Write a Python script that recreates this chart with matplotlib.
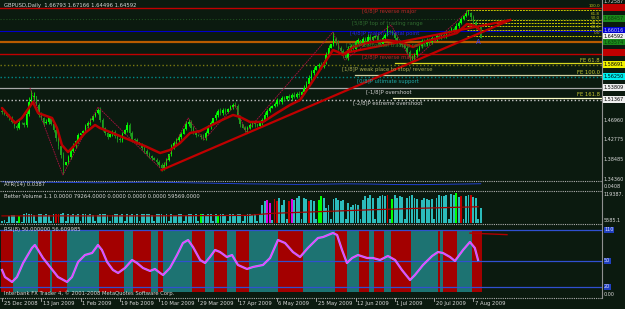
import matplotlib
matplotlib.use("Agg")
import matplotlib.pyplot as plt
from matplotlib.lines import Line2D

# ---------------- data ----------------
header = "GBPUSD,Daily  1.66793 1.67166 1.64496 1.64592"
date_labels = ["25 Dec 2008", "13 Jan 2009", "1 Feb 2009", "19 Feb 2009", "10 Mar 2009",
               "29 Mar 2009", "17 Apr 2009", "6 May 2009", "25 May 2009", "12 Jun 2009",
               "1 Jul 2009", "20 Jul 2009", "7 Aug 2009"]
date_label_bars = [0, 16, 32, 48, 64, 80, 96, 112, 128, 144, 160, 176, 192]

first_open = 1.490
close = [1.487, 1.483, 1.478, 1.474, 1.466, 1.457, 1.453, 1.464, 1.463, 1.459,
         1.483, 1.508, 1.519, 1.521, 1.502, 1.481, 1.474, 1.464, 1.466, 1.474,
         1.461, 1.449, 1.432, 1.414, 1.395, 1.374, 1.380, 1.391, 1.404, 1.414,
         1.425, 1.438, 1.442, 1.446, 1.457, 1.463, 1.470, 1.478, 1.485, 1.491,
         1.470, 1.453, 1.442, 1.434, 1.440, 1.444, 1.436, 1.429, 1.427, 1.440,
         1.449, 1.459, 1.442, 1.429, 1.427, 1.423, 1.417, 1.410, 1.404, 1.397,
         1.393, 1.389, 1.385, 1.380, 1.374, 1.367, 1.374, 1.384, 1.397, 1.412,
         1.421, 1.427, 1.434, 1.440, 1.451, 1.461, 1.466, 1.453, 1.444, 1.438,
         1.436, 1.434, 1.431, 1.442, 1.455, 1.463, 1.474, 1.481, 1.490, 1.484,
         1.492, 1.486, 1.494, 1.498, 1.502, 1.500, 1.478, 1.461, 1.453, 1.449,
         1.453, 1.459, 1.463, 1.461, 1.457, 1.463, 1.470, 1.481, 1.489, 1.496,
         1.500, 1.504, 1.512, 1.508, 1.517, 1.514, 1.521, 1.516, 1.524, 1.520,
         1.526, 1.524, 1.530, 1.538, 1.547, 1.560, 1.570, 1.577, 1.585, 1.587,
         1.583, 1.594, 1.609, 1.624, 1.632, 1.643, 1.636, 1.624, 1.617, 1.609,
         1.602, 1.621, 1.628, 1.622, 1.636, 1.640, 1.633, 1.642, 1.636, 1.648,
         1.640, 1.646, 1.650, 1.638, 1.632, 1.644, 1.652, 1.660, 1.658, 1.655,
         1.645, 1.638, 1.632, 1.630, 1.624, 1.615, 1.604, 1.604, 1.609, 1.619,
         1.628, 1.638, 1.632, 1.640, 1.636, 1.645, 1.642, 1.650, 1.646, 1.652,
         1.648, 1.656, 1.660, 1.664, 1.660, 1.671, 1.677, 1.685, 1.692, 1.698,
         1.698, 1.690, 1.679, 1.671, 1.668, 1.64592]
# wick extensions beyond the body, in thousandths
up_ext = [3, 2, 1, 4, 5, 3, 4, 6, 1, 3, 8, 12,
          15, 9, 1, 4, 5, 3, 6, 4, 1, 3, 4, 5,
          5, 6, 1, 4, 5, 6, 3, 4, 1, 3, 4, 5,
          4, 3, 1, 5, 6, 4, 3, 4, 1, 4, 5, 3,
          4, 5, 1, 6, 5, 4, 3, 4, 1, 3, 4, 3,
          4, 3, 1, 3, 4, 5, 6, 5, 1, 6, 5, 4,
          5, 4, 1, 6, 7, 5, 4, 3, 1, 4, 5, 4,
          5, 4, 1, 5, 4, 5, 3, 4, 1, 4, 5, 6,
          4, 3, 1, 4, 5, 4, 3, 4, 1, 4, 5, 6,
          5, 4, 1, 5, 4, 3, 4, 5, 1, 4, 3, 5,
          4, 5, 1, 6, 7, 5, 6, 5, 1, 4, 6, 5,
          6, 7, 1, 15, 5, 4, 3, 4, 1, 6, 5, 4,
          5, 4, 1, 5, 4, 6, 5, 4, 1, 5, 4, 5,
          4, 12, 1, 5, 3, 4, 3, 4, 1, 3, 4, 5,
          4, 5, 1, 4, 5, 4, 5, 4, 1, 4, 5, 4,
          5, 4, 1, 4, 5, 6, 5, 5, 1, 6, 6, 3,
          4, 4, 1, 4]
dn_ext = [4, 3, 1, 4, 3, 5, 4, 3, 1, 4, 3, 4,
          5, 6, 1, 5, 4, 6, 3, 4, 1, 5, 6, 7,
          6, 20, 1, 5, 4, 3, 4, 5, 1, 4, 3, 4,
          4, 3, 1, 3, 5, 6, 5, 4, 1, 4, 5, 6,
          4, 3, 1, 4, 6, 5, 4, 5, 1, 4, 5, 4,
          5, 4, 1, 5, 4, 6, 4, 3, 1, 4, 3, 4,
          3, 4, 1, 3, 4, 6, 5, 4, 1, 5, 4, 3,
          3, 4, 1, 3, 4, 3, 4, 3, 1, 3, 4, 3,
          5, 6, 1, 5, 4, 3, 4, 5, 1, 3, 4, 3,
          4, 3, 1, 3, 4, 3, 4, 3, 1, 4, 3, 4,
          3, 4, 1, 3, 4, 3, 4, 5, 1, 6, 4, 3,
          4, 3, 1, 4, 6, 5, 6, 7, 1, 5, 4, 3,
          4, 5, 1, 6, 4, 5, 4, 5, 1, 6, 5, 4,
          4, 3, 1, 4, 5, 6, 5, 4, 1, 5, 8, 6,
          5, 4, 1, 4, 3, 4, 5, 4, 1, 4, 3, 4,
          3, 4, 1, 3, 4, 3, 4, 3, 1, 3, 4, 6,
          5, 6, 1, 1]
last_bar = (1.66793, 1.67166, 1.64496, 1.64592)

# moving average (thick red) read at bar positions
ma_bars = [0, 5.3, 8.1, 12.6, 14.7, 20.4, 22.4, 24.4, 26.9, 29.7, 33.8, 37.9, 39.9, 44.0,
           52.1, 58.2, 64.4, 68.4, 72.5, 76.6, 80.7, 84.7, 89.6, 94.1, 97.0, 101.0, 106.3,
           112.0, 117.3, 121.4, 125.5, 130.8, 134.8, 136.9, 138.9, 143.0, 148.7, 156.8,
           162.1, 167.4, 173.1, 179.6, 185.3, 189.4, 192.6, 194.7]
ma_vals = [1.4955, 1.4635, 1.4742, 1.5083, 1.4848, 1.4742, 1.4528, 1.4166, 1.4016, 1.4166,
           1.4422, 1.4593, 1.4528, 1.4443, 1.4272, 1.4144, 1.3995, 1.4059, 1.4208, 1.4422,
           1.4464, 1.4571, 1.4699, 1.4806, 1.4763, 1.4657, 1.4657, 1.4849, 1.5019, 1.5126,
           1.5446, 1.5873, 1.6193, 1.6150, 1.6086, 1.6257, 1.6342, 1.6406, 1.6364, 1.6257,
           1.6385, 1.6470, 1.6556, 1.6748, 1.6705, 1.6620]

# zigzag swing points
zz_bars = [11.4, 24.8, 39.1, 65.2, 75.8, 82.3, 95.0, 99.4, 134.8, 139.7, 158.5, 167.0, 189.8]
zz_vals = [1.5382, 1.3526, 1.4977, 1.3632, 1.4742, 1.4272, 1.5019, 1.4443, 1.6577, 1.5980,
           1.6726, 1.5937, 1.7025]

# trend lines
trend_a_bars = [65, 207]
trend_a_vals = [1.3632, 1.6833]
trend_d_bars = [139.7, 207]
trend_d_vals = [1.6129, 1.6833]

# Murrey math levels
mm_levels = [1.70898, 1.68457, 1.66016, 1.63574, 1.61133, 1.58691, 1.56250, 1.53809, 1.51367]
mm_labels = ["[6/8]P reverse major", "[5/8]P top of trading range", "[4/8]P major/ pivotal point",
             "[3/8]P bottom of trading range", "[2/8]P reverse major",
             "[1/8]P weak place to stop/ reverse", "[0/8]P ultimate support",
             "[-1/8]P overshoot", "[-2/8]P extreme overshoot"]
mm_colors = ["#c00000", "#1f4f1f", "#0000c8", "#b85c00", "#c00000", "#7a7a10", "#008a8a",
             "#a8a8a8", "#c8c8c8"]
mm_text_colors = ["#b82828", "#2f6a2f", "#2828e0", "#3a7a2a", "#b82828", "#a8a850", "#20a8a8",
                  "#d0d0d0", "#d0d0d0"]

fib_high = 1.7047
fib_low = 1.6492
fib_ratios = [100.0, 61.8, 50.0, 38.2, 23.6, 0.0]
fe_labels = ["FE 61.8", "FE 100.0", "FE 161.8"]
fe_vals = [1.5916, 1.5660, 1.5169]

axis_prices = [1.46960, 1.42775, 1.38485, 1.34360]

# ATR
atr_bars = [0, 10, 20, 30, 40, 50, 60, 70, 80, 90, 100, 110, 120, 130, 140, 150, 160, 170, 180, 190, 195]
atr_vals = [0.0405, 0.0402, 0.0400, 0.0398, 0.0396, 0.0399, 0.0401, 0.0398, 0.0394, 0.0390,
            0.0386, 0.0384, 0.0381, 0.0383, 0.0386, 0.0384, 0.0380, 0.0379, 0.0382, 0.0385, 0.0387]

# volume (thousands)
volume = [6, 10, 3, 28, 32, 30, 8, 26, 5, 34, 38, 36,
          35, 33, 6, 34, 36, 32, 35, 33, 6, 37, 35, 34,
          36, 38, 6, 34, 33, 35, 32, 34, 6, 35, 36, 33,
          34, 32, 6, 33, 35, 34, 36, 33, 6, 32, 34, 35,
          33, 36, 6, 34, 32, 35, 33, 34, 6, 36, 35, 37,
          34, 33, 6, 35, 34, 36, 33, 35, 6, 34, 32, 33,
          35, 34, 6, 33, 35, 34, 32, 36, 6, 35, 34, 33,
          36, 34, 6, 35, 33, 34, 36, 32, 6, 34, 35, 33,
          34, 36, 6, 33, 35, 34, 32, 35, 6, 36, 70, 85,
          90, 80, 12, 95, 88, 100, 70, 92, 14, 85, 95, 90,
          100, 105, 14, 100, 95, 88, 92, 85, 15, 90, 105, 98,
          60, 70, 15, 95, 100, 90, 85, 92, 16, 80, 65, 70,
          75, 72, 15, 90, 105, 100, 110, 98, 16, 100, 108, 112,
          105, 110, 16, 95, 112, 100, 108, 104, 16, 100, 106, 112,
          98, 95, 16, 90, 100, 95, 92, 96, 16, 100, 110, 105,
          108, 112, 16, 115, 110, 118, 104, 108, 16, 105, 110, 112,
          104, 100, 14, 60]
vol_special = {7: "g", 22: "r", 23: "r", 81: "g", 88: "g", 108: "m", 109: "m", 111: "r",
               112: "r", 117: "r", 118: "m", 125: "r", 129: "g", 130: "g", 157: "r",
               159: "g", 185: "g", 187: "r", 191: "r"}
vol_ma_bars = [0, 60, 100, 110, 130, 150, 170, 194]
vol_ma_vals = [28, 28, 30, 38, 45, 52, 58, 64]

# RSI-like oscillator
osc_bars = [0, 1.2, 4.1, 6.1, 8.6, 12.2, 13.4, 14.7, 16.7, 19.6, 22.8, 26.5, 28.5, 31.0, 33.8,
            36.7, 39.1, 40.7, 42.8, 45.2, 47.3, 50.1, 53.0, 55.0, 57.4, 60.3, 62.3, 64.4, 65.6,
            68.4, 71.3, 73.7, 75.8, 77.8, 80.7, 82.7, 84.7, 86.8, 88.8, 91.6, 93.7, 96.1, 99.8,
            102.2, 106.3, 109.2, 112.4, 115.3, 118.5, 121.4, 124.6, 128.7, 130.8, 134.8, 136.5,
            138.5, 140.5, 142.6, 145.0, 148.7, 151.1, 154.0, 157.2, 160.1, 162.9, 166.2, 168.2,
            171.5, 175.2, 177.6, 179.6, 182.5, 184.5, 187.8, 190.6, 192.6, 193.9]
osc_vals = [32.6, 19.0, 9.4, 19.0, 46.1, 75.2, 81.0, 71.3, 55.8, 38.4, 19.0, 9.4, 19.0, 48.1,
            61.6, 65.5, 81.0, 71.3, 48.1, 32.6, 26.8, 36.5, 51.9, 46.1, 36.5, 30.7, 34.5, 26.8,
            22.9, 36.5, 61.6, 84.8, 90.6, 77.1, 52.0, 46.1, 57.7, 71.3, 67.4, 57.7, 61.6, 42.3,
            34.5, 38.4, 42.3, 55.8, 90.6, 84.8, 67.4, 57.7, 75.2, 94.5, 96.4, 104.2, 100.3, 71.3,
            46.1, 55.8, 61.6, 55.8, 55.8, 51.9, 59.7, 51.9, 32.6, 13.2, 22.9, 42.3, 59.7, 67.4,
            65.5, 57.7, 50.0, 71.3, 86.8, 75.2, 52.0]
band_runs = [("r", 5), ("t", 10), ("r", 5), ("t", 1), ("r", 6), ("t", 13), ("r", 10), ("t", 4),
             ("r", 7), ("t", 3), ("r", 2), ("t", 12), ("r", 5), ("t", 4), ("r", 5), ("t", 4),
             ("r", 5), ("t", 12), ("r", 10), ("t", 13), ("r", 5), ("t", 5), ("r", 4), ("t", 2),
             ("r", 4), ("t", 3), ("r", 8), ("t", 11), ("r", 1), ("t", 1), ("r", 6), ("t", 6),
             ("r", 4)]
osc_levels = [110, 50, 0]
osc_level_labels = ["110", "50", "20"]

# ---------------- layout helpers ----------------
W, H = 625, 309
BG = "#0b1a0f"
PX_PER_BAR = 2.455
X0PX = 2.0
RIGHT = 602


def bx(xpx):
    return (xpx - X0PX) / PX_PER_BAR


def fy(ypx):
    return 1 - ypx / H


fig = plt.figure(figsize=(W / 100, H / 100), dpi=100)
fig.patch.set_facecolor(BG)
XMIN, XMAX = bx(0), bx(RIGHT)


def make_ax(y0, y1):
    ax = fig.add_axes([0, 1 - y1 / H, RIGHT / W, (y1 - y0) / H])
    ax.set_facecolor(BG)
    ax.set_xlim(XMIN, XMAX)
    for s in ax.spines.values():
        s.set_visible(False)
    ax.set_xticks([])
    ax.set_yticks([])
    return ax


FS = 3.8
FSR = 3.5

# ---------------- main price panel ----------------
ax = make_ax(0, 180)
PTOP, PBOT = 1.726005, 1.3419
ax.set_ylim(PBOT, PTOP)

n = len(close)
opens = [first_open] + close[:-1]
opens[-1] = last_bar[0]
highs = [max(o, c) + u / 1000 for o, c, u in zip(opens, close, up_ext)]
lows = [min(o, c) - d / 1000 for o, c, d in zip(opens, close, dn_ext)]
highs[-1], lows[-1] = last_bar[1], last_bar[2]
idx = list(range(n))

# Murrey lines
mm_styles = ["-", ":", "-", "-", "-", ":", ":", "-", ":"]
mm_lw = [1.0, 0.8, 0.8, 1.6, 1.0, 1.0, 1.0, 0.9, 1.0]
for lv, col, ls, lw in zip(mm_levels, mm_colors, mm_styles, mm_lw):
    ax.axhline(lv, color=col, lw=lw, ls=ls, zorder=1)

# Fib retracement lines
fib_start = bx(467)
for r in fib_ratios:
    pv = fib_low + r / 100 * (fib_high - fib_low)
    ax.plot([fib_start, XMAX], [pv, pv], color="#c8c800", lw=0.7, ls=(0, (2, 1)), zorder=2)
# FE lines
fe_starts = [bx(395), bx(355), bx(393)]
fe_cols = ["#d8d820", "#d0d0a0", "#ffffc8"]
for v, st, col in zip(fe_vals, fe_starts, fe_cols):
    ax.plot([st, XMAX], [v, v], color=col, lw=0.9, zorder=2)

# candles
bull_c, bear_c = "#00ff00", "#1e9e1e"
for i in idx:
    o, c = opens[i], close[i]
    col = bull_c if c >= o else bear_c
    ax.vlines(i, lows[i], highs[i], color=col, lw=0.6, zorder=3)
    bot, top = min(o, c), max(o, c)
    ax.bar(i, max(top - bot, 0.0008), bottom=bot, width=0.62, color=col, lw=0, zorder=3)

# zigzag + MA + trend lines
ax.plot(zz_bars, zz_vals, color="#b01040", lw=0.6, ls=(0, (2, 1)), zorder=4)
ax.plot(ma_bars, ma_vals, color="#b80000", lw=1.8, zorder=5, solid_capstyle="round")
ax.plot(trend_a_bars, trend_a_vals, color="#c00000", lw=1.6, zorder=5)
ax.plot(trend_d_bars, trend_d_vals, color="#c00000", lw=1.6, zorder=5)
ax.text(bx(478), 1.726005 - 0.002134 * 42, "A", color="#3a3aff", fontsize=5,
        ha="center", va="center", zorder=6)

# ---------------- ATR panel ----------------
axa = make_ax(181, 190)
axa.set_ylim(0.0330, 0.0412)
axa.plot(atr_bars, atr_vals, color="#2040d0", lw=0.7)

# ---------------- volume panel ----------------
axv = make_ax(190, 223)
axv.set_ylim(0, 130)
vcols = {"c": "#2cbcbc", "g": "#00ff00", "r": "#c00000", "m": "#e000e0", "w": "#e0e0e0"}
for i, v in enumerate(volume):
    axv.bar(i, v, width=0.75, color=vcols[vol_special.get(i, "c")], lw=0)
axv.plot(vol_ma_bars, vol_ma_vals, color="#a00000", lw=0.9)

# ---------------- oscillator panel ----------------
axr = make_ax(224, 297)
axr.set_ylim(-19.7, 121.6)
states = "".join(s * k for s, k in band_runs)
bcols = {"r": "#a30000", "t": "#1d7372"}
for i, s in enumerate(states):
    axr.bar(i, 120, bottom=-10, width=1.0, color=bcols[s], lw=0)
for lv in osc_levels:
    axr.axhline(lv, color="#3050d0", lw=0.9)
axr.plot([bx(470), bx(507)], [104, 101], color="#b00000", lw=1.0)
axr.plot(osc_bars, osc_vals, color="#9a9aff", lw=1.6)
axr.plot(osc_bars, osc_vals, color="#ff30ff", lw=0.8)

# ---------------- frame lines ----------------
def hline_px(y, x0=0, x1=RIGHT, col="#b0b0b0", ls=(0, (1, 1)), lw=0.8):
    fig.add_artist(Line2D([x0 / W, x1 / W], [fy(y), fy(y)], color=col, lw=lw, ls=ls))

for yy in (181, 190.5, 223.5, 297.5):
    hline_px(yy)
fig.add_artist(Line2D([RIGHT / W, RIGHT / W], [fy(0), fy(298)], color="#909090", lw=0.8))

# ---------------- texts ----------------
TXT = "#d8d8d8"
fig.text(4 / W, fy(6), header, color=TXT, fontsize=FS, va="center")
mm_text_pos = [(362, 12), (352, 24), (350, 34), (346, 46), (362, 58), (342, 69),
               (357, 81), (366, 92), (353, 103)]
for (xp, yp), lab, col in zip(mm_text_pos, mm_labels, mm_text_colors):
    fig.text(xp / W, fy(yp), lab, color=col, fontsize=FS, va="center")

fib_text_y = [6, 14.2, 18.4, 22.6, 26.8, 33]
for r, yp in zip(fib_ratios, fib_text_y):
    fig.text(600 / W, fy(yp), f"{r:.1f}", color="#c0c020", fontsize=3.0, va="center", ha="right")
for lab, yp in zip(fe_labels, [60, 72, 95]):
    fig.text(600 / W, fy(yp), lab, color="#c8c830", fontsize=FS, va="center", ha="right")

# right axis boxes
box_specs = [(7.5, "1.70898", "#c00000", "#c00000"), (18.5, "1.68457", "#1a8a1a", "#0a3a0a"),
             (30.5, "1.66016", "#0000d0", "#c0c0ff"), (36.5, "1.64592", "#f0f0f0", "#000000"),
             (42, "1.63574", "#1a8a1a", "#0a3a0a"), (52.5, "1.61133", "#c00000", "#c00000"),
             (64.5, "1.58691", "#f0f000", "#000000"), (76.5, "1.56250", "#00f0f0", "#000000"),
             (87.5, "1.53809", "#f0f0f0", "#000000"), (99.5, "1.51367", "#f0f0f0", "#000000")]
for yp, lab, bg, tc in box_specs:
    fig.text(603.5 / W, fy(yp), lab, color=tc, fontsize=FSR, va="center", ha="left",
             bbox=dict(boxstyle="square,pad=0.2", fc=bg, ec="none"))
fig.text(603.5 / W, fy(1.5), "1.72587", color=TXT, fontsize=FSR, va="center")
for pv in axis_prices:
    yp = (PTOP - pv) / 0.002134
    fig.text(603.5 / W, fy(yp), f"{pv:.5f}", color=TXT, fontsize=FSR, va="center")

fig.text(4 / W, fy(184.5), "ATR(14) 0.0387", color=TXT, fontsize=FS, va="center")
fig.text(603.5 / W, fy(186), "0.0408", color=TXT, fontsize=FSR, va="center")
fig.text(4 / W, fy(196), "Better Volume 1.1 0.0000 79264.0000 0.0000 0.0000 0.0000 59569.0000",
         color=TXT, fontsize=FS, va="center")
fig.text(603.5 / W, fy(195), "119387.", color=TXT, fontsize=FSR, va="center")
fig.text(603.5 / W, fy(220), "5585.1", color=TXT, fontsize=FSR, va="center")
fig.text(4 / W, fy(230), "RSI(8) 50.000000 56.609985", color=TXT, fontsize=FS, va="center")
for lv, lab in zip(osc_levels, osc_level_labels):
    yp = 224 + (121.6 - lv) / (121.6 + 19.7) * 73
    fig.text(604 / W, fy(yp), lab, color="#e0e0ff", fontsize=FSR, va="center",
             bbox=dict(boxstyle="square,pad=0.1", fc="#2040c0", ec="none"))
fig.text(604 / W, fy(294), "0.00", color=TXT, fontsize=FSR, va="center")
fig.text(4 / W, fy(293), "Interbank FX Trader 4, \u00a9 2001-2008 MetaQuotes Software Corp.",
         color=TXT, fontsize=FS, va="center")

# date axis
for b, lab in zip(date_label_bars, date_labels):
    xp = X0PX + b * PX_PER_BAR
    fig.add_artist(Line2D([xp / W, xp / W], [fy(298), fy(301)], color="#b0b0b0", lw=0.6))
    fig.text((xp + 1.5) / W, fy(303.5), lab, color=TXT, fontsize=FS, va="center")

fig.savefig("out.png", dpi=100, facecolor=BG)
